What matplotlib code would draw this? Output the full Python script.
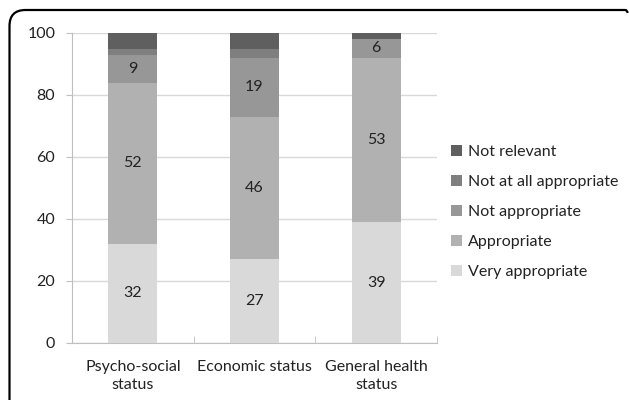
import matplotlib
matplotlib.use("Agg")
import matplotlib.pyplot as plt
import numpy as np
from matplotlib.path import Path
from matplotlib.patches import PathPatch

categories = ["Psycho-social\nstatus", "Economic status", "General health\nstatus"]
series_names = ["Very appropriate", "Appropriate", "Not appropriate", "Not at all appropriate", "Not relevant"]
very_appropriate = [32, 27, 39]
appropriate = [52, 46, 53]
not_appropriate = [9, 19, 6]
not_at_all = [2, 3, 0]
not_relevant = [5, 5, 2]
shown_labels = [True, True, True, False, False]
y_ticks = [0, 20, 40, 60, 80, 100]

series = [very_appropriate, appropriate, not_appropriate, not_at_all, not_relevant]
colors = ["#d9d9d9", "#b1b1b1", "#979797", "#7f7f7f", "#5f5f5f"]

plt.rcParams['font.family'] = ['Lato', 'DejaVu Sans']

fig = plt.figure(figsize=(6.29, 4.0), dpi=100)
ax = fig.add_axes([72/629, 1-343/400, (437-72)/629, 310/400])

x = np.arange(len(categories))
bottom = np.zeros(len(categories))
handles = []
for name, vals, col, show in zip(series_names, series, colors, shown_labels):
    vals = np.array(vals, dtype=float)
    b = ax.bar(x, vals, width=0.4, bottom=bottom, color=col, label=name, zorder=3)
    handles.append(b)
    if show:
        for xi, v, bt in zip(x, vals, bottom):
            ax.text(xi, bt + v/2, f"{int(v)}", ha='center', va='center', fontsize=11.5, color='#222222', zorder=4)
    bottom += vals

ax.set_xlim(-0.5, 2.5)
ax.set_ylim(0, 100)
ax.set_yticks(y_ticks)
ax.set_yticklabels([str(t) for t in y_ticks], fontsize=11.5, color='#222222')
ax.set_xticks(x)
ax.set_xticklabels(categories, fontsize=11.5, color='#222222', linespacing=1.4)
ax.set_xticks([-0.5, 0.5, 1.5, 2.5], minor=True)
ax.tick_params(axis='x', which='major', length=0, pad=12)
ax.tick_params(axis='x', which='minor', length=5, color='#bfbfbf', direction='in')
ax.tick_params(axis='y', length=4, color='#bfbfbf', pad=8)
ax.yaxis.grid(True, color='#d9d9d9', linewidth=1, zorder=0)
ax.set_axisbelow(True)
for s in ['top', 'right']:
    ax.spines[s].set_visible(False)
for s in ['left', 'bottom']:
    ax.spines[s].set_color('#bfbfbf')

leg = fig.legend(handles[::-1], series_names[::-1], loc='upper left',
                 bbox_to_anchor=(437/629, 1-131/400), frameon=False, fontsize=11.5,
                 handlelength=0.65, handleheight=0.65, handletextpad=0.4, labelspacing=1.0)
for t in leg.get_texts():
    t.set_color('#222222')

# rounded frame (left and top edges)
W, H = 629, 400
r = 16
x0, y0 = 9.5, 10
verts = [(x0, H), (x0, y0 + r), (x0, y0), (x0 + r, y0), (W - 4, y0), (W - 1.5, y0), (W - 1.5, y0 + 3)]
codes = [Path.MOVETO, Path.LINETO, Path.CURVE3, Path.CURVE3, Path.LINETO, Path.CURVE3, Path.CURVE3]
verts = [(vx / W, 1 - vy / H) for vx, vy in verts]
patch = PathPatch(Path(verts, codes), transform=fig.transFigure, fill=False, edgecolor='black', linewidth=1.6)
fig.add_artist(patch)

fig.savefig("out.png", dpi=100)
